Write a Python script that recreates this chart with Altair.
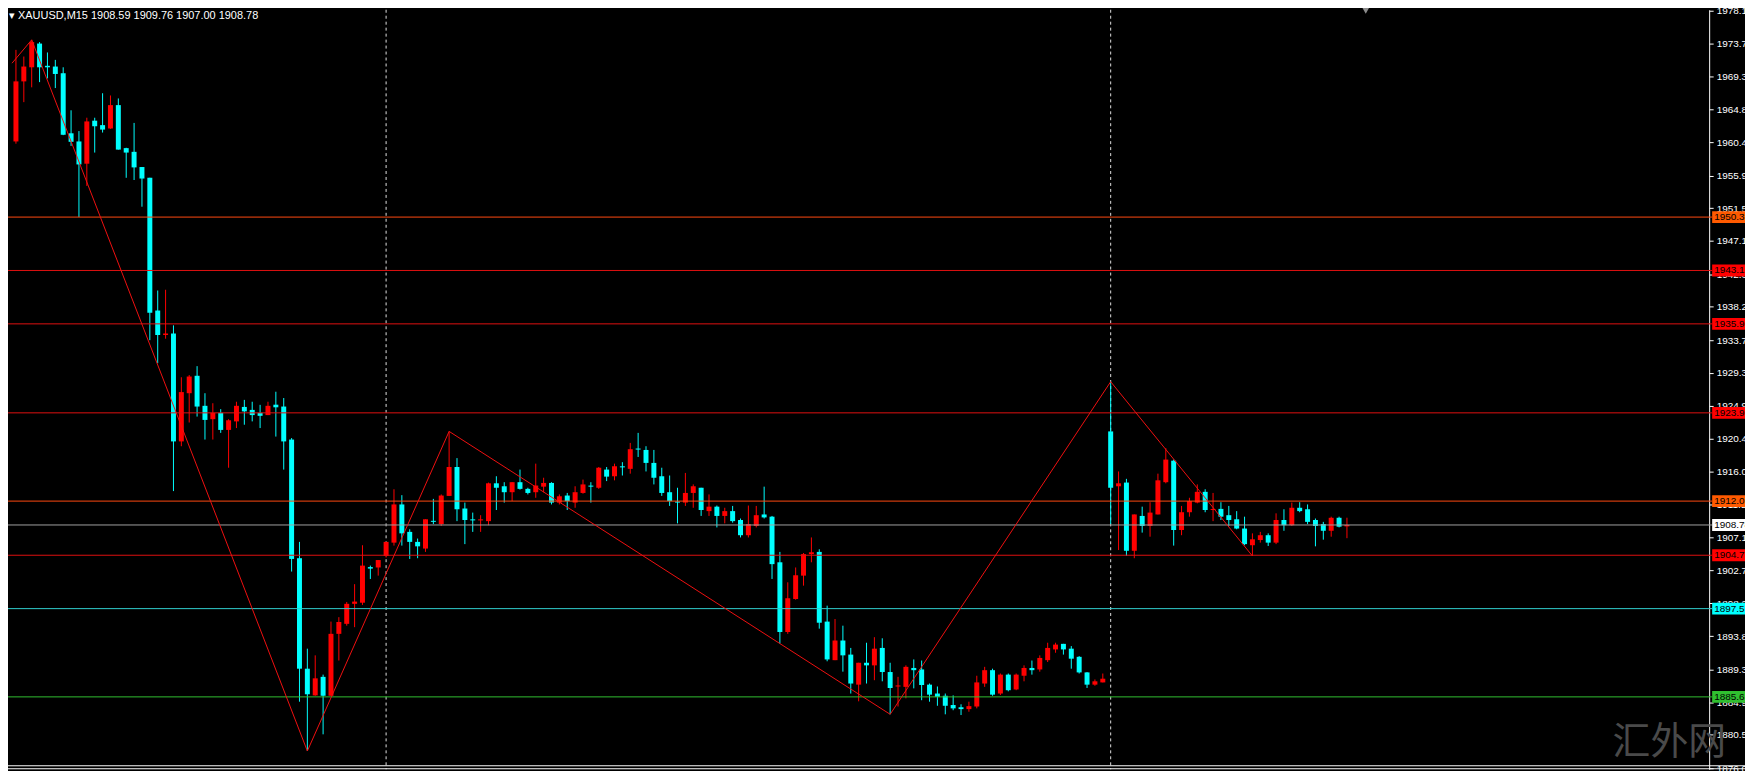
import altair as alt
import pandas as pd

# ---------------- data ----------------
opens = [1960.5, 1968.6, 1970.5, 1973.7, 1970.7, 1970.6, 1969.7, 1961.6, 1960.5, 1957.5,
         1963.3, 1962.7, 1962.25, 1965.4, 1959.6, 1959.1, 1957.05, 1955.6, 1937.7, 1934.4,
         1934.6, 1920.05, 1926.55, 1928.9, 1924.85, 1923.05, 1923.9, 1921.6, 1922.75, 1924.7,
         1924.3, 1923.9, 1923.6, 1925.0, 1924.75, 1920.3, 1904.3, 1889.4, 1885.8, 1888.3,
         1885.75, 1894.1, 1895.45, 1898.15, 1898.3, 1903.1, 1903.05, 1904.6, 1906.4, 1911.55,
         1907.85, 1906.5, 1905.6, 1909.3, 1908.9, 1912.7, 1916.6, 1911.0, 1909.5, 1909.4,
         1909.3, 1914.4, 1914.0, 1913.2, 1914.55, 1913.65, 1913.2, 1913.95, 1914.45, 1911.8,
         1912.75, 1911.8, 1913.1, 1914.05, 1913.8, 1916.25, 1915.35, 1916.65, 1916.35, 1919.05,
         1918.9, 1917.15, 1915.35, 1913.2, 1911.9, 1911.8, 1913.1, 1913.8, 1910.65, 1911.25,
         1910.0, 1910.65, 1909.45, 1907.4, 1908.65, 1910.2, 1909.9, 1903.75, 1894.35, 1898.8,
         1901.95, 1904.85, 1905.15, 1895.75, 1890.55, 1893.2, 1891.3, 1887.25, 1890.2, 1889.85,
         1892.2, 1888.95, 1887.0, 1886.95, 1889.5, 1889.3, 1887.25, 1886.05, 1885.75, 1884.5,
         1884.2, 1883.95, 1884.3, 1887.4, 1889.2, 1886.05, 1888.6, 1886.6, 1888.45, 1889.5,
         1889.3, 1890.55, 1892.0, 1892.75, 1892.1, 1891.0, 1888.9, 1887.25, 1887.55, 1921.4,
         1914.0, 1914.5, 1905.3, 1910.0, 1908.65, 1910.2, 1914.55, 1917.45, 1908.1, 1910.5,
         1911.8, 1913.25, 1910.8, 1910.95, 1910.1, 1909.55, 1908.3, 1906.05, 1906.75, 1907.4,
         1906.4, 1909.45, 1908.75, 1911.1, 1910.9, 1909.45, 1908.9, 1908.0, 1909.75, 1908.59]
highs = [1972.85, 1971.95, 1974.2, 1973.9, 1972.5, 1971.5, 1970.5, 1964.7, 1961.9, 1963.7,
         1963.7, 1967.0, 1966.7, 1966.3, 1959.65, 1963.0, 1957.05, 1955.6, 1940.4, 1940.5,
         1935.7, 1928.7, 1929.0, 1930.2, 1926.55, 1925.2, 1924.4, 1923.05, 1925.4, 1925.65,
         1925.4, 1924.98, 1925.4, 1926.75, 1925.9, 1920.5, 1906.5, 1892.1, 1891.2, 1888.6,
         1895.75, 1896.35, 1898.4, 1900.8, 1906.05, 1903.3, 1904.05, 1906.5, 1913.6, 1912.8,
         1908.2, 1906.95, 1909.55, 1912.3, 1912.9, 1921.4, 1917.8, 1911.8, 1910.45, 1910.1,
         1914.5, 1915.35, 1914.55, 1914.55, 1916.25, 1913.8, 1917.05, 1915.15, 1914.55, 1912.9,
         1913.1, 1914.0, 1914.9, 1914.55, 1916.6, 1916.6, 1917.05, 1917.25, 1919.85, 1921.2,
         1919.4, 1918.9, 1916.5, 1915.45, 1913.8, 1915.8, 1914.25, 1913.8, 1912.9, 1911.4,
         1911.1, 1911.35, 1909.65, 1911.4, 1911.35, 1913.95, 1910.0, 1905.15, 1901.05, 1903.05,
         1905.0, 1907.1, 1905.5, 1897.9, 1896.1, 1895.2, 1892.2, 1890.2, 1892.9, 1893.65,
         1893.5, 1890.2, 1888.3, 1889.85, 1890.65, 1890.5, 1887.4, 1887.0, 1886.05, 1885.8,
         1884.6, 1884.95, 1888.45, 1889.65, 1889.4, 1888.75, 1888.75, 1888.75, 1889.85, 1890.5,
         1891.2, 1892.9, 1892.9, 1892.75, 1892.45, 1891.1, 1888.95, 1887.95, 1888.75, 1928.1,
         1916.0, 1915.0, 1910.2, 1911.25, 1911.85, 1915.7, 1919.15, 1917.6, 1911.35, 1912.45,
         1914.25, 1913.6, 1913.1, 1911.85, 1911.35, 1910.65, 1909.9, 1907.65, 1907.85, 1907.65,
         1910.35, 1910.9, 1911.8, 1911.85, 1911.55, 1909.65, 1909.2, 1909.9, 1909.9, 1909.76]
lows = [1960.2, 1965.8, 1967.8, 1968.5, 1969.0, 1967.7, 1961.35, 1959.9, 1950.3, 1954.5,
        1959.0, 1961.7, 1962.2, 1959.4, 1955.6, 1955.3, 1951.7, 1933.7, 1930.6, 1933.9,
        1913.35, 1919.4, 1922.6, 1923.4, 1920.3, 1920.3, 1921.2, 1916.5, 1921.85, 1922.3,
        1922.75, 1921.85, 1923.6, 1920.7, 1916.25, 1902.5, 1884.95, 1878.3, 1885.75, 1880.55,
        1885.75, 1890.5, 1895.2, 1895.0, 1898.0, 1901.5, 1901.95, 1904.4, 1906.0, 1906.0,
        1904.2, 1904.3, 1905.15, 1908.9, 1908.65, 1912.7, 1909.3, 1906.2, 1907.85, 1907.85,
        1908.75, 1910.8, 1911.8, 1912.0, 1913.55, 1912.9, 1912.45, 1913.2, 1911.55, 1911.55,
        1910.8, 1911.1, 1913.0, 1911.8, 1913.65, 1914.7, 1914.8, 1915.45, 1915.7, 1917.95,
        1916.0, 1914.25, 1912.7, 1911.35, 1909.0, 1911.35, 1911.1, 1910.0, 1910.0, 1908.45,
        1909.0, 1909.1, 1907.1, 1907.1, 1908.45, 1909.65, 1901.5, 1892.8, 1894.1, 1898.7,
        1900.6, 1903.75, 1894.8, 1890.4, 1890.55, 1889.0, 1886.05, 1885.0, 1887.4, 1887.85,
        1887.7, 1883.25, 1884.3, 1885.4, 1886.75, 1885.15, 1884.95, 1884.4, 1883.25, 1883.8,
        1883.15, 1883.6, 1884.05, 1886.95, 1885.75, 1885.85, 1886.35, 1886.5, 1887.7, 1888.6,
        1889.0, 1890.3, 1891.55, 1891.3, 1889.4, 1888.75, 1886.8, 1887.1, 1887.55, 1908.9,
        1905.4, 1904.6, 1904.3, 1907.75, 1907.2, 1910.2, 1914.4, 1906.0, 1907.4, 1909.9,
        1911.7, 1910.5, 1909.3, 1909.45, 1908.65, 1908.2, 1906.05, 1904.6, 1906.4, 1905.95,
        1906.2, 1908.0, 1908.65, 1910.5, 1908.9, 1905.9, 1906.8, 1907.2, 1908.45, 1907.0]
closes = [1968.6, 1970.6, 1973.9, 1970.5, 1970.5, 1969.6, 1961.4, 1960.45, 1957.4, 1963.2,
          1962.55, 1962.1, 1965.4, 1959.4, 1959.0, 1957.0, 1955.5, 1937.4, 1934.4, 1934.6,
          1920.05, 1926.7, 1928.8, 1924.75, 1922.95, 1923.9, 1921.6, 1922.9, 1924.85, 1924.1,
          1923.6, 1923.5, 1924.85, 1924.65, 1920.05, 1904.2, 1889.4, 1885.95, 1888.1, 1885.75,
          1894.1, 1895.7, 1898.15, 1898.45, 1903.3, 1902.9, 1904.05, 1906.5, 1911.55, 1907.65,
          1906.5, 1905.9, 1909.55, 1909.2, 1912.75, 1916.6, 1910.9, 1909.45, 1909.4, 1909.5,
          1914.4, 1913.8, 1913.2, 1914.55, 1913.65, 1913.1, 1914.1, 1914.45, 1911.8, 1912.65,
          1912.0, 1913.2, 1914.25, 1913.95, 1916.5, 1915.3, 1916.7, 1916.55, 1919.0, 1918.95,
          1917.15, 1915.15, 1913.1, 1912.0, 1911.8, 1913.1, 1914.0, 1910.8, 1911.25, 1910.0,
          1910.65, 1909.3, 1907.4, 1908.9, 1910.1, 1909.8, 1903.5, 1894.35, 1898.9, 1902.0,
          1904.85, 1905.1, 1895.6, 1890.65, 1893.2, 1891.2, 1887.4, 1890.2, 1889.85, 1892.1,
          1888.95, 1886.8, 1887.1, 1889.65, 1889.2, 1887.2, 1885.9, 1885.6, 1884.4, 1884.05,
          1883.95, 1884.35, 1887.55, 1889.2, 1885.9, 1888.6, 1886.5, 1888.6, 1889.5, 1889.2,
          1890.85, 1892.2, 1892.65, 1892.0, 1890.75, 1888.9, 1887.25, 1887.7, 1888.05, 1913.8,
          1914.4, 1905.3, 1910.2, 1908.65, 1910.45, 1914.8, 1917.6, 1908.1, 1910.5, 1912.0,
          1913.25, 1910.8, 1910.9, 1909.9, 1909.45, 1908.3, 1906.2, 1906.85, 1907.4, 1906.4,
          1909.45, 1908.75, 1911.1, 1910.65, 1909.2, 1908.65, 1908.0, 1909.75, 1908.55, 1908.78]

# horizontal price levels
level_prices = [1950.3, 1943.1, 1935.9, 1923.9, 1912.0, 1908.78, 1904.7, 1897.5, 1885.6]
level_labels = ["1950.3", "1943.1", "1935.9", "1923.9", "1912.0", "1908.78", "1904.7", "1897.5", "1885.6"]
level_line_colors = ["#FF4A10", "#E01010", "#E01010", "#E01010", "#FF4A10", "#A0A0A0", "#E01010", "#30D0D0", "#30C030"]
level_box_colors = ["#FF5A00", "#FF0000", "#FF0000", "#FF0000", "#FF5A00", "#FFFFFF", "#FF0000", "#00FFFF", "#30C030"]

# zigzag pivots (bar index, price)
zz_idx = [-0.5, 2, 37, 55, 111, 139, 157]
zz_price = [1971.05, 1974.2, 1878.3, 1921.4, 1883.25, 1928.1, 1904.6]

# day separators (bar index)
day_sep_idx = [47, 139]

# right price axis labels
axis_ticks = [1978.1, 1973.7, 1969.3, 1964.8, 1960.4, 1955.9, 1951.5, 1947.1, 1942.6, 1938.2,
              1933.7, 1929.3, 1924.9, 1920.4, 1916.0, 1911.5, 1907.1, 1902.7, 1898.2, 1893.8,
              1889.3, 1884.9, 1880.5, 1876.0]

header = "XAUUSD,M15  1908.59 1909.76 1907.00 1908.78"
watermark = "汇外网"

# ---------------- chart ----------------
W, H = 1709, 763
FONT = "Liberation Sans"
xs = alt.Scale(domain=[-0.377, 214.36], nice=False, zero=False)
ys = alt.Scale(domain=[1875.84, 1978.26], nice=False, zero=False)
yax = alt.Axis(orient="right", values=axis_ticks, format=".1f", title=None, grid=False,
               domainColor="#FFFFFF", tickColor="#FFFFFF", tickSize=4, labelColor="#FFFFFF",
               labelFont=FONT, labelFontSize=10, labelPadding=3, labelOverlap=False,
               labelBound=False, labelFlush=False)

df = pd.DataFrame({"i": list(range(len(opens))), "open": opens, "high": highs,
                   "low": lows, "close": closes})
df["dir"] = ["up" if c >= o else "down" for o, c in zip(opens, closes)]

col = alt.Color("dir:N", scale=alt.Scale(domain=["up", "down"], range=["#FF0000", "#00FFFF"]),
                legend=None)

lv = pd.DataFrame({"price": level_prices, "label": level_labels,
                   "lc": level_line_colors, "bc": level_box_colors})
zz = pd.DataFrame({"i": zz_idx, "price": zz_price})
ds = pd.DataFrame({"i": day_sep_idx})

level_rules = alt.Chart(lv).mark_rule(strokeWidth=1).encode(
    y=alt.Y("price:Q", scale=ys, axis=yax),
    x=alt.value(0), x2=alt.value(W + 3),
    color=alt.Color("lc:N", scale=None),
)

seps = alt.Chart(ds).mark_rule(strokeWidth=1, strokeDash=[3, 3], color="#E0E0E0").encode(
    x=alt.X("i:Q", scale=xs, axis=None),
    y=alt.value(0), y2=alt.value(H),
)

wicks = alt.Chart(df).mark_rule(strokeWidth=1).encode(
    x=alt.X("i:Q", scale=xs, axis=None),
    y=alt.Y("low:Q", scale=ys, axis=yax),
    y2="high:Q",
    color=col,
)

bodies = alt.Chart(df).transform_calculate(
    blo="min(datum.open, datum.close)",
    bhi="max(max(datum.open, datum.close), min(datum.open, datum.close) + 0.14)",
).mark_bar(size=5).encode(
    x=alt.X("i:Q", scale=xs, axis=None),
    y=alt.Y("blo:Q", scale=ys, axis=yax),
    y2="bhi:Q",
    color=col,
)

zigzag = alt.Chart(zz).mark_line(color="#F01010", strokeWidth=1, clip=True).encode(
    x=alt.X("i:Q", scale=xs, axis=None),
    y=alt.Y("price:Q", scale=ys, axis=yax),
)

boxes = alt.Chart(lv).transform_calculate(
    lo="datum.price - 0.8", hi="datum.price + 0.8"
).mark_rect().encode(
    y=alt.Y("lo:Q", scale=ys, axis=yax), y2="hi:Q",
    x=alt.value(W + 3), x2=alt.value(W + 36),
    color=alt.Color("bc:N", scale=None),
)

box_text = alt.Chart(lv).mark_text(align="left", baseline="middle", font=FONT,
                                   fontSize=10, color="#000000").encode(
    y=alt.Y("price:Q", scale=ys, axis=yax),
    x=alt.value(W + 5),
    text="label:N",
)

head = alt.Chart(pd.DataFrame({"t": ["\u25BE " + header]})).mark_text(
    align="left", baseline="top", font=FONT, fontSize=11, color="#FFFFFF"
).encode(x=alt.value(1), y=alt.value(0), text="t:N")

wm = alt.Chart(pd.DataFrame({"t": [watermark]})).mark_text(
    align="left", baseline="middle", font="Noto Sans CJK SC", fontSize=38, color="#4A4A4A"
).encode(x=alt.value(1612), y=alt.value(737), text="t:N")

tri = alt.Chart(pd.DataFrame({"t": [1]})).mark_point(
    shape="triangle-down", filled=True, color="#8C8C8C", size=45, opacity=1
).encode(x=alt.value(1364), y=alt.value(1))

bottom1 = alt.Chart(pd.DataFrame({"t": [1]})).mark_rule(color="#FFFFFF", strokeWidth=1).encode(
    x=alt.value(0), x2=alt.value(W + 36), y=alt.value(H - 3.5),
)
bottom2 = alt.Chart(pd.DataFrame({"t": [1]})).mark_rule(color="#FFFFFF", strokeWidth=1).encode(
    x=alt.value(0), x2=alt.value(W + 36), y=alt.value(H - 0.5),
)

chart = alt.layer(
    seps, wicks, bodies, level_rules, zigzag, wm, head, tri, boxes, box_text, bottom1, bottom2
).properties(
    width=W, height=H,
    padding={"left": 0, "top": 0, "right": 36, "bottom": 0},
    autosize=alt.AutoSizeParams(type="none"),
).configure(background="#000000").configure_view(stroke=None)

chart.save("out.html", embed_options={"renderer": "svg", "actions": False})
